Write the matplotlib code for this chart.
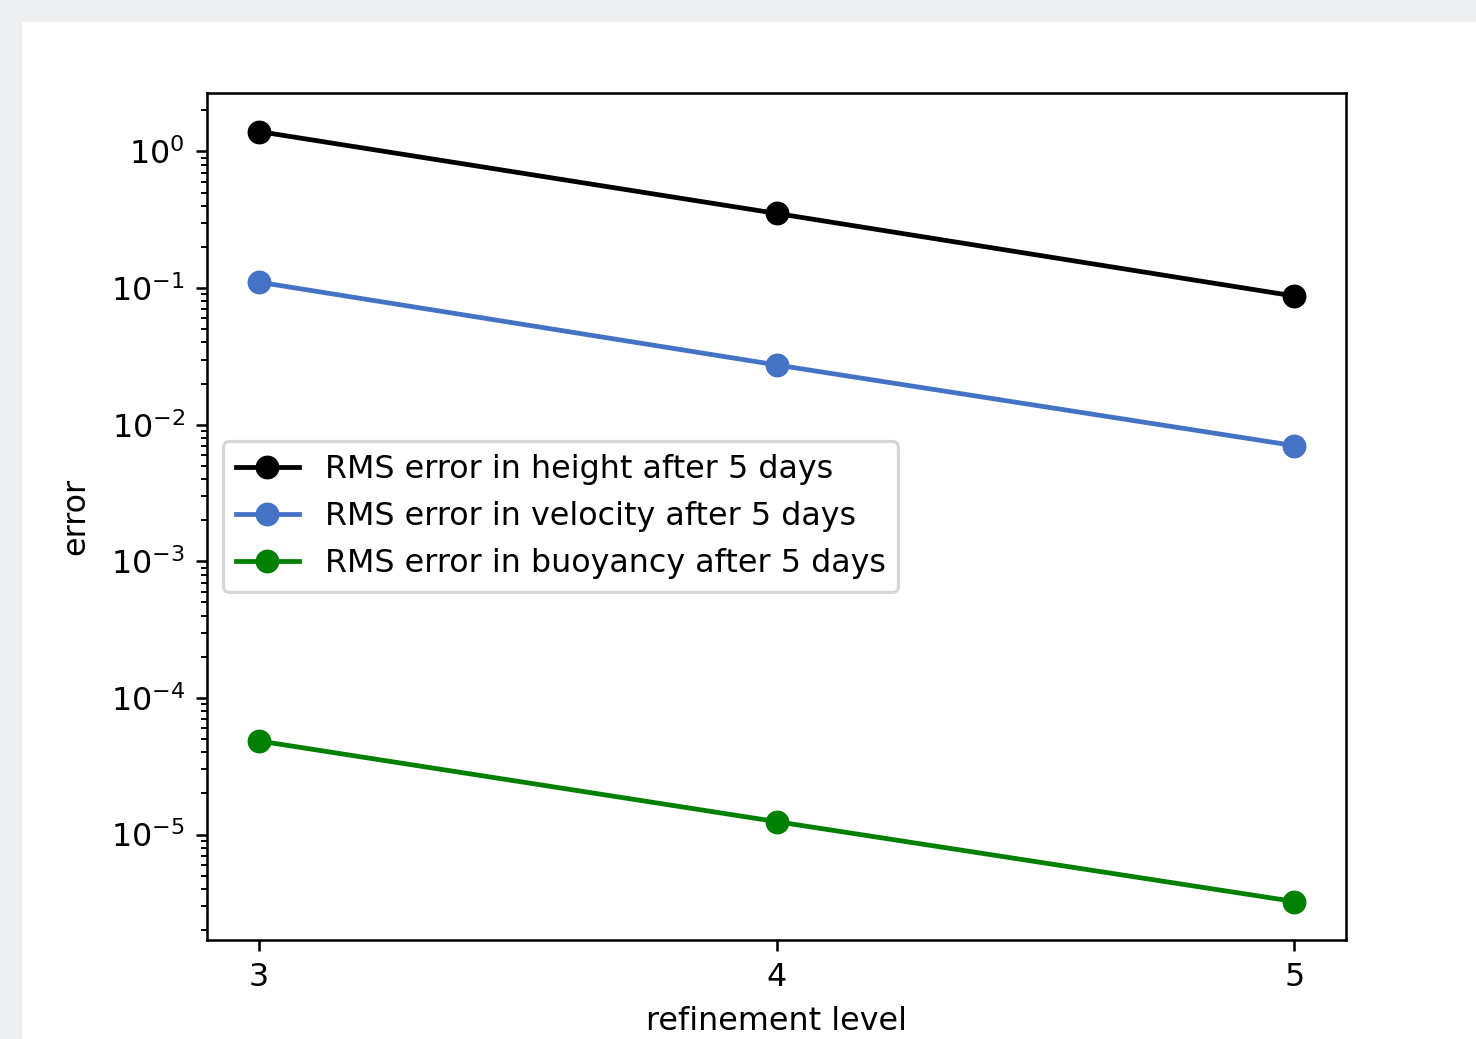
import numpy as np
import matplotlib.pyplot as plt
from matplotlib.patches import Rectangle

# --- data ---
levels = [3, 4, 5]
err_height = [1.40, 0.352, 0.0875]
err_velocity = [0.1106, 0.0274, 0.00703]
err_buoyancy = [4.85e-5, 1.245e-5, 3.24e-6]

labels = [
    "RMS error in height after 5 days",
    "RMS error in velocity after 5 days",
    "RMS error in buoyancy after 5 days",
]
colors = ["black", "#4472c4", "green"]

W, H = 1476, 1039
DPI = 229

fig = plt.figure(figsize=(W / DPI, H / DPI), dpi=DPI, facecolor="#eceef0")
# white figure panel inside the grey screenshot border
fig.patches.append(Rectangle((22 / W, 0), 1 - 22 / W, 1 - 22 / H,
                             transform=fig.transFigure, facecolor="white",
                             edgecolor="none", zorder=-5))

ax = fig.add_axes([207 / W, (H - 940) / H, (1346 - 207) / W, (940 - 93) / H])
ax.set_zorder(2)

for vals, lab, c in zip([err_height, err_velocity, err_buoyancy], labels, colors):
    ax.plot(levels, vals, marker="o", markersize=6.5, color=c, label=lab)

ax.set_yscale("log")
ax.set_xticks(levels)
ax.set_xlabel("refinement level")
ax.set_ylabel("error", labelpad=6)
ax.legend(loc="center left")

fig.savefig("out.png", dpi=DPI, facecolor=fig.get_facecolor())
